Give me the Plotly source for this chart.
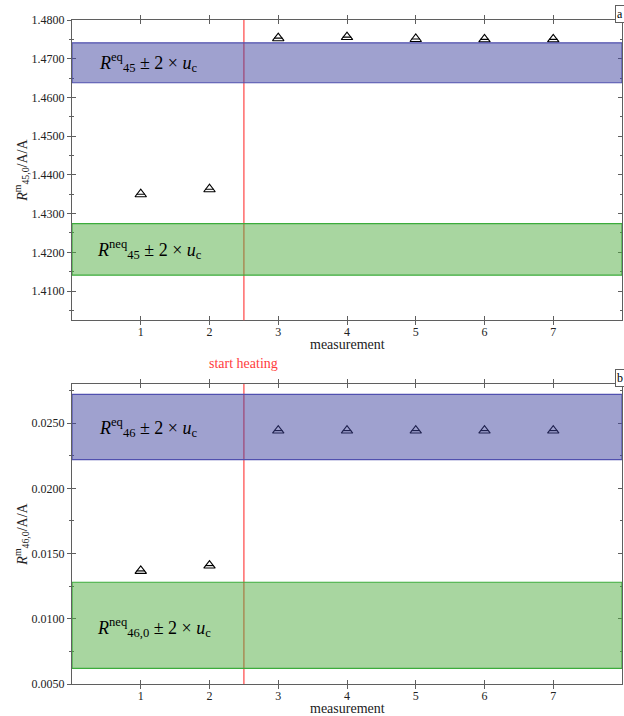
import plotly.graph_objects as go

# ---- data ----
measurement = [1, 2, 3, 4, 5, 6, 7]
r45_values = [1.4350, 1.4363, 1.4753, 1.4756, 1.4751, 1.4750, 1.4750]
r46_values = [0.01367, 0.01408, 0.02443, 0.02443, 0.02443, 0.02443, 0.02443]

eq45_band = [1.4638, 1.4741]
neq45_band = [1.4141, 1.4274]
eq46_band = [0.0222, 0.0272]
neq46_band = [0.0062, 0.0128]

heating_x = 2.5
x_ticks = [1, 2, 3, 4, 5, 6, 7]
y45_ticks = [1.41, 1.42, 1.43, 1.44, 1.45, 1.46, 1.47, 1.48]
y46_ticks = [0.005, 0.010, 0.015, 0.020, 0.025]

FONT = "Liberation Serif"
AX = "rgb(95,95,95)"
BLUE_FILL = "rgba(64,68,160,0.5)"
BLUE_LINE = "rgb(80,80,175)"
GREEN_FILL = "rgba(82,174,66,0.5)"
GREEN_LINE = "rgb(60,172,60)"
RED = "rgba(255,80,80,0.85)"

fig = go.Figure()

marker_tri = dict(symbol="triangle-up-open", size=10, color="black", line=dict(width=1.1, color="black"))
marker_bar = dict(symbol="line-ew-open", size=6, color="black", line=dict(width=1.2, color="black"))

for xa, ya, vals in [("x", "y", r45_values), ("x2", "y2", r46_values)]:
    fig.add_trace(go.Scatter(x=measurement, y=vals, mode="markers", marker=marker_tri,
                             xaxis=xa, yaxis=ya, showlegend=False, hoverinfo="skip"))
    fig.add_trace(go.Scatter(x=measurement, y=vals, mode="markers", marker=marker_bar,
                             xaxis=xa, yaxis=ya, showlegend=False, hoverinfo="skip"))

# invisible traces for overlay tick axes
for ya, vals in [("y3", r45_values), ("y4", r46_values), ("y5", r45_values), ("y6", r46_values)]:
    xa = "x" if ya in ("y3", "y5") else "x2"
    fig.add_trace(go.Scatter(x=measurement, y=vals, mode="markers", marker=dict(opacity=0),
                             xaxis=xa, yaxis=ya, showlegend=False, hoverinfo="skip"))

top_dom = [0.548, 1.0]
bot_dom = [0.0, 0.4518]
r45 = [1.4025, 1.48]
r46 = [0.005, 0.028]

xcommon = dict(range=[0, 8], tickvals=x_ticks, ticks="inside", ticklen=4, tickcolor=AX, automargin=False,
               showline=True, linecolor=AX, linewidth=1.2, mirror="allticks", showgrid=False,
               zeroline=False, tickfont=dict(family=FONT, size=12, color="#222"))

def ycommon(rng, ticks, dt_minor, title):
    return dict(range=rng, tickvals=ticks, tickformat=".4f", ticks="outside", ticklen=4, tickcolor=AX,
                showline=True, linecolor=AX, linewidth=1.2, mirror=True, showgrid=False, zeroline=False,
                automargin=False, tickfont=dict(family=FONT, size=12, color="#222"),
                minor=dict(dtick=dt_minor, ticks="outside", ticklen=2, tickcolor=AX),
                title=dict(text=title, font=dict(family=FONT, size=14, color="#222"), standoff=0))

def yover(rng, ticks, dt_minor, base, side, anchor):
    return dict(range=rng, tickvals=ticks, ticks="inside", ticklen=4, tickcolor=AX, automargin=False,
                overlaying=base, side=side, anchor=anchor, showticklabels=False, showline=False,
                showgrid=False, zeroline=False,
                minor=dict(dtick=dt_minor, ticks="inside", ticklen=2, tickcolor=AX))

fig.update_layout(
    width=624, height=716,
    margin=dict(l=72, r=2, t=20, b=32, autoexpand=False),
    plot_bgcolor="white", paper_bgcolor="white",
    xaxis=dict(**xcommon, domain=[0, 1], anchor="y"),
    xaxis2=dict(**xcommon, domain=[0, 1], anchor="y2"),
    yaxis=dict(**ycommon(r45, y45_ticks, 0.005, "<i>R</i><sup>m</sup><sub>45,0</sub>/A/A"), domain=top_dom, anchor="x"),
    yaxis2=dict(**ycommon(r46, y46_ticks, 0.0025, "<i>R</i><sup>m</sup><sub>46,0</sub>/A/A"), domain=bot_dom, anchor="x2"),
    yaxis3=yover(r45, y45_ticks, 0.005, "y", "right", "x"),
    yaxis4=yover(r46, y46_ticks, 0.0025, "y2", "right", "x2"),
    yaxis5=yover(r45, y45_ticks, 0.005, "y", "left", "x"),
    yaxis6=yover(r46, y46_ticks, 0.0025, "y2", "left", "x2"),
)

shapes = []
# red heating lines (below bands)
for xr, yr in [("x", "y domain"), ("x2", "y2 domain")]:
    shapes.append(dict(type="line", xref=xr, yref=yr, x0=heating_x, x1=heating_x, y0=0, y1=1,
                       line=dict(color=RED, width=1.5), layer="above"))
# bands
for xr, yr, band, fill, line in [("x", "y", eq45_band, BLUE_FILL, BLUE_LINE),
                                 ("x", "y", neq45_band, GREEN_FILL, GREEN_LINE),
                                 ("x2", "y2", eq46_band, BLUE_FILL, BLUE_LINE),
                                 ("x2", "y2", neq46_band, GREEN_FILL, GREEN_LINE)]:
    shapes.append(dict(type="rect", xref=xr, yref=yr, x0=0, x1=8, y0=band[0], y1=band[1],
                       fillcolor=fill, line=dict(color=line, width=1.2), layer="above"))
fig.update_layout(shapes=shapes)

lab_font = dict(family=FONT, size=18, color="black")
title_font = dict(family=FONT, size=14, color="#222")
annotations = [
    dict(x=0.36, y=sum(eq45_band) / 2, xref="x", yref="y", xanchor="left", yanchor="middle", showarrow=False,
         text="<i>R</i><sup>eq</sup><sub>45</sub> ± 2 × <i>u</i><sub>c</sub>", font=lab_font),
    dict(x=0.33, y=sum(neq45_band) / 2, xref="x", yref="y", xanchor="left", yanchor="middle", showarrow=False,
         text="<i>R</i><sup>neq</sup><sub>45</sub> ± 2 × <i>u</i><sub>c</sub>", font=lab_font),
    dict(x=0.36, y=0.0247, xref="x2", yref="y2", xanchor="left", yanchor="middle", showarrow=False,
         text="<i>R</i><sup>eq</sup><sub>46</sub> ± 2 × <i>u</i><sub>c</sub>", font=lab_font),
    dict(x=0.33, y=0.0093, xref="x2", yref="y2", xanchor="left", yanchor="middle", showarrow=False,
         text="<i>R</i><sup>neq</sup><sub>46,0</sub> ± 2 × <i>u</i><sub>c</sub>", font=lab_font),
    dict(x=0.5, y=0.512, xref="paper", yref="paper", xanchor="center", yanchor="middle", showarrow=False,
         text="measurement", font=title_font),
    dict(x=0.5, y=-0.037, xref="paper", yref="paper", xanchor="center", yanchor="middle", showarrow=False,
         text="measurement", font=title_font),
    dict(x=heating_x, y=0.482, xref="x2", yref="paper", xanchor="center", yanchor="middle", showarrow=False,
         text="start heating", font=dict(family=FONT, size=14, color="rgb(255,60,60)")),
    dict(x=1, y=1, xref="x domain", yref="y domain", xanchor="right", yanchor="bottom", xshift=3, yshift=-3,
         showarrow=False, text="a", font=dict(family=FONT, size=12, color="black"),
         bordercolor=AX, borderwidth=1, borderpad=1, bgcolor="white"),
    dict(x=1, y=1, xref="x2 domain", yref="y2 domain", xanchor="right", yanchor="bottom", xshift=3, yshift=-3,
         showarrow=False, text="b", font=dict(family=FONT, size=12, color="black"),
         bordercolor=AX, borderwidth=1, borderpad=1, bgcolor="white"),
]
fig.update_layout(annotations=annotations)

fig.write_html("out.html", config={"displayModeBar": False},
               post_script="document.body.style.margin='0';document.body.style.overflow='hidden';")
